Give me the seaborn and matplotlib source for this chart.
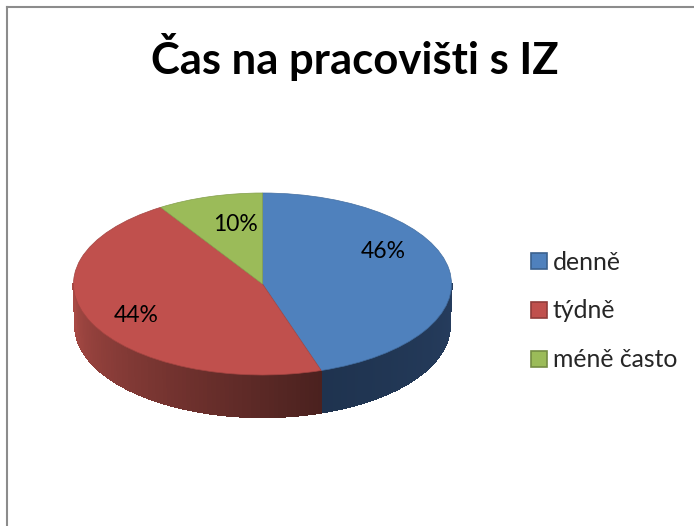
import numpy as np
import matplotlib
matplotlib.use("Agg")
import matplotlib.pyplot as plt
from matplotlib.patches import Patch
from matplotlib.collections import PolyCollection
import seaborn as sns

categories = ["denně", "týdně", "méně často"]
values = [46, 44, 10]
colors = ["#4F81BD", "#C0504D", "#9BBB59"]
title = "Čas na pracovišti s IZ"

W, H = 694, 526
sns.set_theme(style="white")
plt.rcParams["font.family"] = ["Lato", "DejaVu Sans"]

# pie geometry in pixels
CX, CY, RX, RY, DEPTH = 262.5, 284.0, 189.0, 91.0, 42.0
L, T = 7.0, 6.5


def px(x, y):
    return (x - CX) / RX, (CY - y) / RY


def project(a):
    # perspective of the tilted disc: apparent angle (clockwise from top) of a true angle
    r = np.radians(a)
    return a - 9.9 * np.sin(r) + 2.55 * np.sin(2 * r)


fig = plt.figure(figsize=(W / 100, H / 100), dpi=100, facecolor="white")
ax = fig.add_axes([L / W, 0, 1 - L / W, (H - T) / H])
palette = sns.color_palette(colors)

wedges, _, autotexts = ax.pie(
    values, colors=palette, startangle=90, counterclock=False,
    autopct=lambda p: f"{p:.0f}%",
    wedgeprops=dict(linewidth=0.5, zorder=3),
    textprops=dict(fontsize=16.5, color="black", zorder=5),
)
edges = project(np.concatenate([[0], np.cumsum(values)]) / np.sum(values) * 360)
for i, (w, c) in enumerate(zip(wedges, palette)):
    w.set_edgecolor(tuple(0.85 * np.array(c)))
    w.set_theta1(90 - edges[i + 1])
    w.set_theta2(90 - edges[i])

ax.set_aspect("auto")
ax.set_frame_on(True)
ax.set_xlim(px(L, 0)[0], px(W, 0)[0])
ax.set_ylim(px(0, H)[1], px(0, T)[1])
for name, sp in ax.spines.items():
    sp.set_visible(name in ("left", "top"))
    sp.set_color("#8c8c8c")
    sp.set_linewidth(1.5)

# side wall, derived from the slice angles
d = DEPTH / RY
shade_ranges = [((0.15, 0.24, 0.37), (0.12, 0.20, 0.31)),
                ((0.29, 0.13, 0.12), (0.66, 0.29, 0.27)),
                ((0.4, 0.5, 0.2), (0.4, 0.5, 0.2))]
for i in range(len(values)):
    a0, a1 = max(edges[i], 90), min(edges[i + 1], 270)
    if a1 <= a0:
        continue
    steps = np.radians(np.linspace(a0, a1, 80))
    polys, cols = [], []
    for n, (r0, r1) in enumerate(zip(steps[:-1], steps[1:])):
        polys.append([(np.sin(r0), np.cos(r0)), (np.sin(r1), np.cos(r1)),
                      (np.sin(r1) * 0.99, np.cos(r1) - d), (np.sin(r0) * 0.99, np.cos(r0) - d)])
        t = (n + 0.5) / (len(steps) - 1)
        cols.append(tuple((1 - t) * np.array(shade_ranges[i][0]) + t * np.array(shade_ranges[i][1])))
    ax.add_collection(PolyCollection(polys, facecolors=cols, edgecolors=cols, linewidths=1.0,
                                     antialiaseds=False, zorder=2))

# percentage labels
label_px = [(383, 252), (136, 315), (235, 225)]
for t, p in zip(autotexts, label_px):
    t.set_position(px(*p))

fig.text(355 / W, 1 - 57 / H, title, fontsize=31.4, fontweight="bold", color="black",
         ha="center", va="center")

handles = [Patch(facecolor=c, edgecolor=tuple(0.75 * np.array(c)), linewidth=1.2) for c in palette]
ax.legend(handles, categories, loc="center left", bbox_to_anchor=(524 / W, 1 - 311 / H),
          bbox_transform=fig.transFigure, frameon=False, fontsize=17.8,
          handlelength=0.65, handleheight=0.65, handletextpad=0.22, labelspacing=1.05,
          borderpad=0, borderaxespad=0.3)

fig.savefig("out.png", dpi=100, facecolor="white")
